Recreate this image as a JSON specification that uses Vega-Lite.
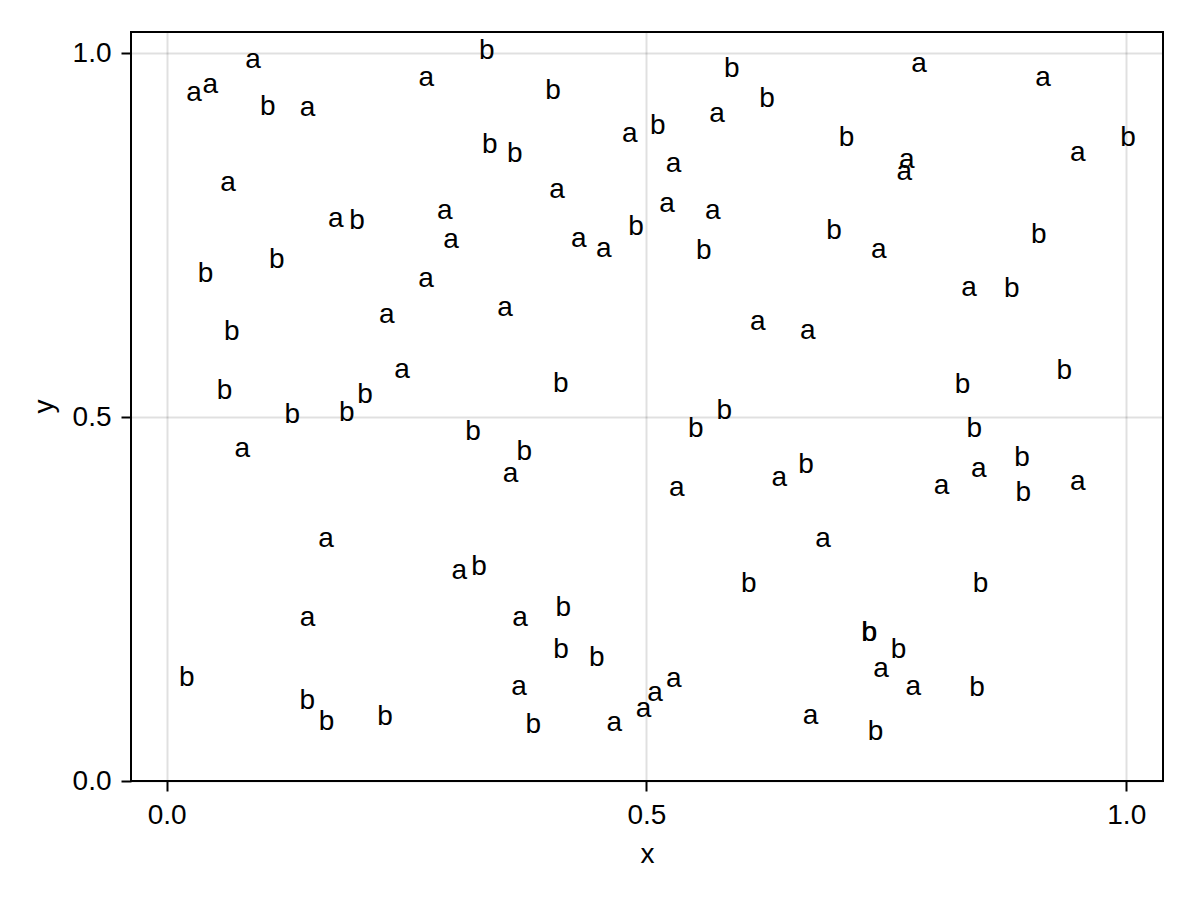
{
  "$schema": "https://vega.github.io/schema/vega-lite/v6.json",
  "width": 1032,
  "height": 749,
  "autosize": {"type": "none"},
  "padding": {"left": 131, "top": 32, "right": 37, "bottom": 119},
  "background": "white",
  "config": {"view": {"stroke": "black", "strokeWidth": 2}, "font": "Liberation Sans"},
  "data": {"values": [
    {"x": 0.0284, "y": 0.9349, "label": "a"},
    {"x": 0.0453, "y": 0.9451, "label": "a"},
    {"x": 0.0899, "y": 0.9802, "label": "a"},
    {"x": 0.1053, "y": 0.9148, "label": "b"},
    {"x": 0.1469, "y": 0.9139, "label": "a"},
    {"x": 0.2705, "y": 0.9551, "label": "a"},
    {"x": 0.3336, "y": 0.9918, "label": "b"},
    {"x": 0.4026, "y": 0.9368, "label": "b"},
    {"x": 0.3366, "y": 0.8635, "label": "b"},
    {"x": 0.3627, "y": 0.8511, "label": "b"},
    {"x": 0.4825, "y": 0.8786, "label": "a"},
    {"x": 0.5117, "y": 0.8892, "label": "b"},
    {"x": 0.5888, "y": 0.9670, "label": "b"},
    {"x": 0.6256, "y": 0.9258, "label": "b"},
    {"x": 0.5735, "y": 0.9060, "label": "a"},
    {"x": 0.5283, "y": 0.8374, "label": "a"},
    {"x": 0.4067, "y": 0.8008, "label": "a"},
    {"x": 0.5214, "y": 0.7824, "label": "a"},
    {"x": 0.5690, "y": 0.7720, "label": "a"},
    {"x": 0.4891, "y": 0.7504, "label": "b"},
    {"x": 0.4294, "y": 0.7343, "label": "a"},
    {"x": 0.4555, "y": 0.7206, "label": "a"},
    {"x": 0.5597, "y": 0.7170, "label": "b"},
    {"x": 0.7840, "y": 0.9747, "label": "a"},
    {"x": 0.9132, "y": 0.9551, "label": "a"},
    {"x": 0.7086, "y": 0.8727, "label": "b"},
    {"x": 1.0018, "y": 0.8727, "label": "b"},
    {"x": 0.7713, "y": 0.8420, "label": "a"},
    {"x": 0.7687, "y": 0.8260, "label": "a"},
    {"x": 0.9494, "y": 0.8525, "label": "a"},
    {"x": 0.6954, "y": 0.7445, "label": "b"},
    {"x": 0.7421, "y": 0.7184, "label": "a"},
    {"x": 0.9088, "y": 0.7390, "label": "b"},
    {"x": 0.0639, "y": 0.8113, "label": "a"},
    {"x": 0.1761, "y": 0.7610, "label": "a"},
    {"x": 0.1983, "y": 0.7582, "label": "b"},
    {"x": 0.2897, "y": 0.7728, "label": "a"},
    {"x": 0.2963, "y": 0.7321, "label": "a"},
    {"x": 0.1146, "y": 0.7047, "label": "b"},
    {"x": 0.0404, "y": 0.6859, "label": "b"},
    {"x": 0.2702, "y": 0.6794, "label": "a"},
    {"x": 0.0677, "y": 0.6062, "label": "b"},
    {"x": 0.2294, "y": 0.6291, "label": "a"},
    {"x": 0.2452, "y": 0.5544, "label": "a"},
    {"x": 0.0604, "y": 0.5247, "label": "b"},
    {"x": 0.2066, "y": 0.5201, "label": "b"},
    {"x": 0.1876, "y": 0.4953, "label": "b"},
    {"x": 0.1308, "y": 0.4926, "label": "b"},
    {"x": 0.0787, "y": 0.4459, "label": "a"},
    {"x": 0.3192, "y": 0.4688, "label": "b"},
    {"x": 0.3525, "y": 0.6392, "label": "a"},
    {"x": 0.4106, "y": 0.5352, "label": "b"},
    {"x": 0.3727, "y": 0.4413, "label": "b"},
    {"x": 0.3583, "y": 0.4115, "label": "a"},
    {"x": 0.6159, "y": 0.6199, "label": "a"},
    {"x": 0.6680, "y": 0.6071, "label": "a"},
    {"x": 0.5811, "y": 0.4973, "label": "b"},
    {"x": 0.5514, "y": 0.4725, "label": "b"},
    {"x": 0.6662, "y": 0.4231, "label": "b"},
    {"x": 0.6384, "y": 0.4056, "label": "a"},
    {"x": 0.5315, "y": 0.3919, "label": "a"},
    {"x": 0.8361, "y": 0.6666, "label": "a"},
    {"x": 0.8806, "y": 0.6657, "label": "b"},
    {"x": 0.9354, "y": 0.5522, "label": "b"},
    {"x": 0.8295, "y": 0.5338, "label": "b"},
    {"x": 0.8416, "y": 0.4725, "label": "b"},
    {"x": 0.8915, "y": 0.4331, "label": "b"},
    {"x": 0.8463, "y": 0.4176, "label": "a"},
    {"x": 0.8076, "y": 0.3946, "label": "a"},
    {"x": 0.8926, "y": 0.3841, "label": "b"},
    {"x": 0.9494, "y": 0.4001, "label": "a"},
    {"x": 0.1660, "y": 0.3214, "label": "a"},
    {"x": 0.3049, "y": 0.2775, "label": "a"},
    {"x": 0.3254, "y": 0.2834, "label": "b"},
    {"x": 0.1469, "y": 0.2124, "label": "a"},
    {"x": 0.0209, "y": 0.1309, "label": "b"},
    {"x": 0.1465, "y": 0.0989, "label": "b"},
    {"x": 0.1667, "y": 0.0705, "label": "b"},
    {"x": 0.2275, "y": 0.0773, "label": "b"},
    {"x": 0.6839, "y": 0.3214, "label": "a"},
    {"x": 0.6066, "y": 0.2591, "label": "b"},
    {"x": 0.4133, "y": 0.2271, "label": "b"},
    {"x": 0.3682, "y": 0.2124, "label": "a"},
    {"x": 0.4109, "y": 0.1690, "label": "b"},
    {"x": 0.4482, "y": 0.1574, "label": "b"},
    {"x": 0.3671, "y": 0.1185, "label": "a"},
    {"x": 0.5285, "y": 0.1286, "label": "a"},
    {"x": 0.5089, "y": 0.1093, "label": "a"},
    {"x": 0.4969, "y": 0.0879, "label": "a"},
    {"x": 0.4664, "y": 0.0681, "label": "a"},
    {"x": 0.3820, "y": 0.0659, "label": "b"},
    {"x": 0.6709, "y": 0.0787, "label": "a"},
    {"x": 0.8481, "y": 0.2591, "label": "b"},
    {"x": 0.7319, "y": 0.1918, "label": "b"},
    {"x": 0.7324, "y": 0.1927, "label": "b"},
    {"x": 0.7626, "y": 0.1690, "label": "b"},
    {"x": 0.7444, "y": 0.1429, "label": "a"},
    {"x": 0.7780, "y": 0.1185, "label": "a"},
    {"x": 0.8444, "y": 0.1162, "label": "b"},
    {"x": 0.7386, "y": 0.0558, "label": "b"}
  ]},
  "mark": {"type": "text", "fontSize": 28, "font": "Liberation Sans", "color": "black", "align": "center", "baseline": "alphabetic"},
  "encoding": {
    "x": {
      "field": "x", "type": "quantitative",
      "scale": {"domain": [-0.0372, 1.0383], "nice": false, "zero": false},
      "axis": {
        "values": [0, 0.5, 1], "format": ".1f",
        "labelFontSize": 28, "labelColor": "black", "labelFont": "Liberation Sans",
        "labelPadding": 10, "labelFlush": false, "labelOverlap": false,
        "tickColor": "black", "tickWidth": 2, "tickSize": 10,
        "domain": false,
        "grid": true, "gridColor": "black", "gridOpacity": 0.12, "gridWidth": 2,
        "title": "x", "titleFontSize": 28, "titleFontWeight": "normal", "titleColor": "black", "titleFont": "Liberation Sans",
        "titleBaseline": "alphabetic", "titleY": 81
      }
    },
    "y": {
      "field": "y", "type": "quantitative",
      "scale": {"domain": [0, 1.0293], "nice": false, "zero": false},
      "axis": {
        "values": [0, 0.5, 1], "format": ".1f",
        "labelFontSize": 28, "labelColor": "black", "labelFont": "Liberation Sans",
        "labelPadding": 10, "labelFlush": false, "labelOverlap": false,
        "tickColor": "black", "tickWidth": 2, "tickSize": 10,
        "domain": false,
        "grid": true, "gridColor": "black", "gridOpacity": 0.12, "gridWidth": 2,
        "title": "y", "titleFontSize": 28, "titleFontWeight": "normal", "titleColor": "black", "titleFont": "Liberation Sans",
        "titleAngle": -90, "titleAlign": "center", "titleBaseline": "alphabetic", "titleX": -79, "titleY": 374
      }
    },
    "text": {"field": "label", "type": "nominal"}
  }
}
